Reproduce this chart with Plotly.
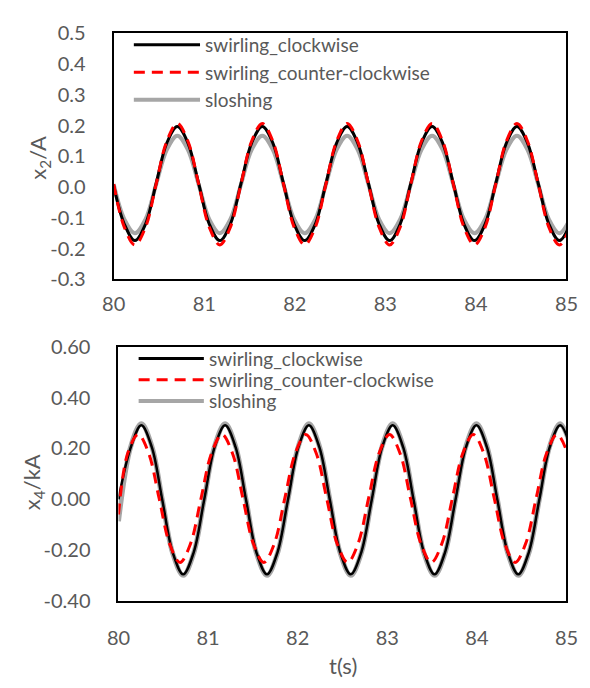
import plotly.graph_objects as go

# ---------------- data ----------------
t_top = [80.000, 80.117, 80.234, 80.352, 80.469, 80.586, 80.703, 80.820,
         80.938, 81.055, 81.172, 81.289, 81.406, 81.523, 81.641, 81.758,
         81.875, 81.992, 82.109, 82.227, 82.344, 82.461, 82.578, 82.695,
         82.813, 82.930, 83.047, 83.164, 83.281, 83.398, 83.516, 83.633,
         83.750, 83.867, 83.984, 84.102, 84.219, 84.336, 84.453, 84.570,
         84.688, 84.805, 84.922, 85.039]

x2_clockwise = [0.005, -0.120, -0.174, -0.120, 0.012, 0.143, 0.197, 0.143,
                0.012, -0.120, -0.174, -0.120, 0.012, 0.143, 0.197, 0.143,
                0.012, -0.120, -0.174, -0.120, 0.012, 0.143, 0.197, 0.143,
                0.012, -0.120, -0.174, -0.120, 0.012, 0.143, 0.197, 0.143,
                0.012, -0.120, -0.174, -0.120, 0.012, 0.143, 0.197, 0.143,
                0.012, -0.120, -0.174, -0.120]

x2_counter = [0.010, -0.130, -0.188, -0.130, 0.010, 0.149, 0.207, 0.149,
              0.010, -0.130, -0.188, -0.130, 0.010, 0.149, 0.207, 0.149,
              0.010, -0.130, -0.188, -0.130, 0.010, 0.149, 0.207, 0.149,
              0.010, -0.130, -0.188, -0.130, 0.010, 0.149, 0.207, 0.149,
              0.010, -0.130, -0.188, -0.130, 0.010, 0.149, 0.207, 0.149,
              0.010, -0.130, -0.188, -0.130]

x2_sloshing = [0.009, -0.104, -0.150, -0.104, 0.009, 0.121, 0.167, 0.121,
               0.009, -0.104, -0.150, -0.104, 0.009, 0.121, 0.167, 0.121,
               0.009, -0.104, -0.150, -0.104, 0.009, 0.121, 0.167, 0.121,
               0.009, -0.104, -0.150, -0.104, 0.009, 0.121, 0.167, 0.121,
               0.009, -0.104, -0.150, -0.104, 0.009, 0.121, 0.167, 0.121,
               0.009, -0.104, -0.150, -0.104]

t_bot = [80.000, 80.138, 80.255, 80.372, 80.489, 80.605, 80.722, 80.839,
         80.956, 81.073, 81.190, 81.307, 81.424, 81.540, 81.657, 81.774,
         81.891, 82.008, 82.125, 82.242, 82.359, 82.475, 82.592, 82.709,
         82.826, 82.943, 83.060, 83.177, 83.294, 83.410, 83.527, 83.644,
         83.761, 83.878, 83.995, 84.112, 84.229, 84.345, 84.462, 84.579,
         84.696, 84.813, 84.930, 85.047]

t_bot_counter = [80.000, 80.103, 80.220, 80.337, 80.454, 80.570, 80.687, 80.804,
                 80.921, 81.038, 81.155, 81.272, 81.389, 81.505, 81.622, 81.739,
                 81.856, 81.973, 82.090, 82.207, 82.324, 82.440, 82.557, 82.674,
                 82.791, 82.908, 83.025, 83.142, 83.259, 83.375, 83.492, 83.609,
                 83.726, 83.843, 83.960, 84.077, 84.194, 84.310, 84.427, 84.544,
                 84.661, 84.778, 84.895, 85.012]

x4_clockwise = [0.000, 0.205, 0.291, 0.205, -0.003, -0.210, -0.296, -0.210,
                -0.003, 0.205, 0.291, 0.205, -0.003, -0.210, -0.296, -0.210,
                -0.003, 0.205, 0.291, 0.205, -0.003, -0.210, -0.296, -0.210,
                -0.003, 0.205, 0.291, 0.205, -0.003, -0.210, -0.296, -0.210,
                -0.003, 0.205, 0.291, 0.205, -0.003, -0.210, -0.296, -0.210,
                -0.003, 0.205, 0.291, 0.205]

x4_counter = [-0.060, 0.181, 0.255, 0.181, 0.003, -0.175, -0.249, -0.175,
              0.003, 0.181, 0.255, 0.181, 0.003, -0.175, -0.249, -0.175,
              0.003, 0.181, 0.255, 0.181, 0.003, -0.175, -0.249, -0.175,
              0.003, 0.181, 0.255, 0.181, 0.003, -0.175, -0.249, -0.175,
              0.003, 0.181, 0.255, 0.181, 0.003, -0.175, -0.249, -0.175,
              0.003, 0.181, 0.255, 0.181]

x4_sloshing = [-0.087, 0.209, 0.297, 0.209, -0.002, -0.213, -0.300, -0.213,
               -0.002, 0.209, 0.297, 0.209, -0.002, -0.213, -0.300, -0.213,
               -0.002, 0.209, 0.297, 0.209, -0.002, -0.213, -0.300, -0.213,
               -0.002, 0.209, 0.297, 0.209, -0.002, -0.213, -0.300, -0.213,
               -0.002, 0.209, 0.297, 0.209, -0.002, -0.213, -0.300, -0.213,
               -0.002, 0.209, 0.297, 0.209]

series_names = ["swirling_clockwise", "swirling_counter-clockwise", "sloshing"]

x_ticks = [80, 81, 82, 83, 84, 85]
x_ticktext = ["80", "81", "82", "83", "84", "85"]
y_top_ticks = [-0.3, -0.2, -0.1, 0.0, 0.1, 0.2, 0.3, 0.4, 0.5]
y_top_ticktext = ["-0.3", "-0.2", "-0.1", "0.0", "0.1", "0.2", "0.3", "0.4", "0.5"]
y_bot_ticks = [-0.4, -0.2, 0.0, 0.2, 0.4, 0.6]
y_bot_ticktext = ["-0.40", "-0.20", "0.00", "0.20", "0.40", "0.60"]

# ---------------- styling ----------------
W, H = 590, 688
FONT = "Lato"
TXT = "#595959"
BLACK = "#000000"
RED = "#FF0000"
GRAY = "#A6A6A6"
DASH = "11px,7px"


def px(x):
    return x / W


def py(y):
    return 1 - y / H


fig = go.Figure()

# top subplot (gray, black, red drawing order)
fig.add_trace(go.Scatter(x=t_top, y=x2_sloshing, mode="lines", name=series_names[2],
                         line=dict(color=GRAY, width=4, shape="spline"),
                         xaxis="x", yaxis="y", showlegend=False))
fig.add_trace(go.Scatter(x=t_top, y=x2_clockwise, mode="lines", name=series_names[0],
                         line=dict(color=BLACK, width=3, shape="spline"),
                         xaxis="x", yaxis="y", showlegend=False))
fig.add_trace(go.Scatter(x=t_top, y=x2_counter, mode="lines", name=series_names[1],
                         line=dict(color=RED, width=3, dash=DASH, shape="spline"),
                         xaxis="x", yaxis="y", showlegend=False))

# bottom subplot
fig.add_trace(go.Scatter(x=t_bot, y=x4_sloshing, mode="lines", name=series_names[2],
                         line=dict(color=GRAY, width=5, shape="spline"),
                         xaxis="x2", yaxis="y2", showlegend=False))
fig.add_trace(go.Scatter(x=t_bot, y=x4_clockwise, mode="lines", name=series_names[0],
                         line=dict(color=BLACK, width=2.5, shape="spline"),
                         xaxis="x2", yaxis="y2", showlegend=False))
fig.add_trace(go.Scatter(x=t_bot_counter, y=x4_counter, mode="lines", name=series_names[1],
                         line=dict(color=RED, width=3, dash=DASH, shape="spline"),
                         xaxis="x2", yaxis="y2", showlegend=False))

axis_common = dict(showgrid=False, zeroline=False, showline=True, mirror=True,
                   linecolor="black", linewidth=2, ticks="",
                   tickfont=dict(family=FONT, size=20, color=TXT))

fig.update_layout(
    width=W, height=H,
    margin=dict(l=0, r=0, t=0, b=0),
    paper_bgcolor="white", plot_bgcolor="white",
    showlegend=False,
    xaxis=dict(domain=[px(106), px(578)], anchor="y", range=[80, 85],
               tickvals=x_ticks, ticktext=x_ticktext, ticklabelstandoff=6, **axis_common),
    yaxis=dict(domain=[py(276), py(21)], anchor="x", range=[-0.3, 0.5],
               tickvals=y_top_ticks, ticktext=y_top_ticktext, ticklabelstandoff=22, **axis_common),
    xaxis2=dict(domain=[px(111), px(578)], anchor="y2", range=[80, 85],
                tickvals=x_ticks, ticktext=x_ticktext, ticklabelstandoff=18, **axis_common),
    yaxis2=dict(domain=[py(609), py(346)], anchor="x2", range=[-0.4, 0.6],
                tickvals=y_bot_ticks, ticktext=y_bot_ticktext, ticklabelstandoff=22, **axis_common),
)

# axis titles
fig.add_annotation(x=px(28), y=py(150), xref="paper", yref="paper",
                   xanchor="center", yanchor="middle",
                   text="x<sub>2</sub>/A", textangle=-90, showarrow=False,
                   font=dict(family=FONT, size=22, color=TXT))
fig.add_annotation(x=px(22), y=py(486), xref="paper", yref="paper",
                   xanchor="center", yanchor="middle",
                   text="x<sub>4</sub>/kA", textangle=-90, showarrow=False,
                   font=dict(family=FONT, size=22, color=TXT))
fig.add_annotation(x=px(345), y=py(676), xref="paper", yref="paper",
                   xanchor="center", yanchor="middle",
                   text="t(s)", showarrow=False,
                   font=dict(family=FONT, size=22, color=TXT))

# legends (drawn inside each plot area)
legend_styles = [dict(color=BLACK, width=3), dict(color=RED, width=3, dash=DASH),
                 dict(color=GRAY, width=4)]


def add_legend(x0, x1, rows):
    for name, style, yy in zip(series_names, legend_styles, rows):
        fig.add_shape(type="line", xref="paper", yref="paper",
                      x0=px(x0), x1=px(x1), y0=py(yy), y1=py(yy), line=style)
        fig.add_annotation(x=px(x1 + 3), y=py(yy), xref="paper", yref="paper",
                           text=name, showarrow=False, xanchor="left", yanchor="middle",
                           font=dict(family=FONT, size=19, color=TXT))


add_legend(127, 196, [33, 61.5, 90])
add_legend(132, 200, [358, 380, 402])

fig.write_html("out.html", post_script="document.body.style.margin='0px';")
